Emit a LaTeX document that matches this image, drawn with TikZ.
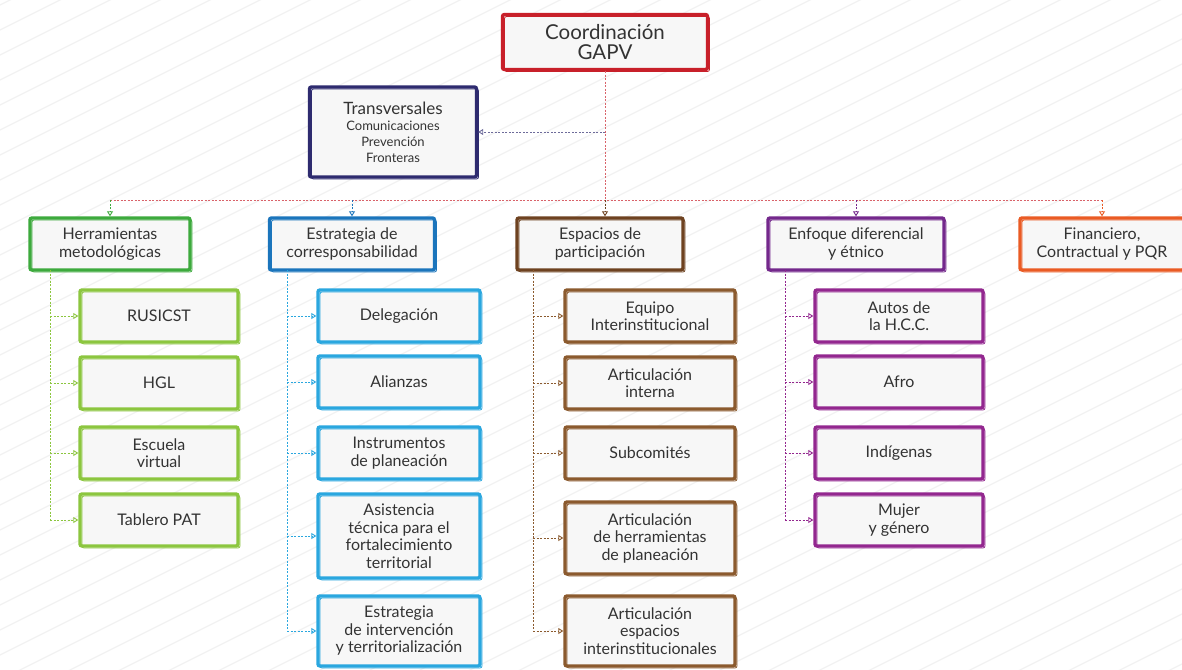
\documentclass[tikz,border=0pt]{standalone}
\usepackage{fontspec}
\setmainfont{Lato}
\usetikzlibrary{arrows.meta}
\definecolor{coordred}{HTML}{C8202A}
\definecolor{navy}{HTML}{2E2B6F}
\definecolor{herrgreen}{HTML}{3DAA3D}
\definecolor{leafgreen}{HTML}{8CC63F}
\definecolor{estrblue}{HTML}{1B75BC}
\definecolor{leafblue}{HTML}{2AA7DF}
\definecolor{espabrown}{HTML}{6E4220}
\definecolor{leafbrown}{HTML}{8B5A2E}
\definecolor{enfopurple}{HTML}{74288C}
\definecolor{leafpurple}{HTML}{93278F}
\definecolor{finaorange}{HTML}{EA5B24}
\newcommand\trsub{\fontsize{13}{14}\selectfont}
\begin{document}
\begin{tikzpicture}[x=1pt,y=-1pt,
  box/.style={draw=#1, line width=3.4pt, rounded corners=2pt, fill=gray!6,
    align=center, text=black!80, inner sep=2pt, minimum height=52pt,
    font=\fontsize{16}{17.5}\selectfont,
    postaction={draw=#1, line width=0.8pt, transform canvas={shift={(2pt,-2pt)}}}},
  link/.style={draw=#1, dash pattern=on 2pt off 1.5pt, line width=0.9pt,
    -{Triangle[open,length=5pt,width=6pt]}},
  bus/.style={draw=#1, dash pattern=on 2pt off 1.5pt, line width=0.9pt}]
  \useasboundingbox (0,0) rectangle (1182,669);
  \fill[white] (0,0) rectangle (1182,669);
  \begin{scope}
    \clip (0,0) rectangle (1182,669);
    \foreach \i in {-30,...,25}
      \draw[black!5, line width=1.2pt] (\i*50,680) -- ++(1400,-700);
  \end{scope}

  \node[box=coordred, minimum width=205pt, minimum height=55pt,
    font=\fontsize{20.5}{20}\selectfont] (coord) at (605,42) {Coordinación\\GAPV};
  \node[box=navy, minimum width=167pt, minimum height=90pt,
    font=\fontsize{17}{16}\selectfont] (trans) at (393,132)
    {Transversales\\{\trsub Comunicaciones}\\{\trsub Prevención}\\{\trsub Fronteras}};

  \node[box=herrgreen, minimum width=160pt] (herr) at (110,244) {Herramientas\\metodológicas};
  \node[box=estrblue, minimum width=165pt] (estr) at (352,244) {Estrategia de\\corresponsabilidad};
  \node[box=espabrown, minimum width=166pt] (espa) at (600,244) {Espacios de\\participación};
  \node[box=enfopurple, minimum width=176pt] (enfo) at (856,244) {Enfoque diferencial\\y étnico};
  \node[box=finaorange, minimum width=164pt] (fina) at (1102,244) {Financiero,\\Contractual y PQR};

  \node[box=leafgreen, minimum width=158pt] (rusi) at (159,316) {RUSICST};
  \node[box=leafgreen, minimum width=158pt] (hgl) at (159,383) {HGL};
  \node[box=leafgreen, minimum width=158pt] (escu) at (159,453) {Escuela\\virtual};
  \node[box=leafgreen, minimum width=158pt] (tabl) at (159,520) {Tablero PAT};

  \node[box=leafblue, minimum width=162pt] (dele) at (399,316) {Delegación};
  \node[box=leafblue, minimum width=162pt] (alia) at (399,382) {Alianzas};
  \node[box=leafblue, minimum width=162pt] (inst) at (399,453) {Instrumentos\\de planeación};
  \node[box=leafblue, minimum width=162pt, minimum height=84pt] (asis) at (399,536)
    {Asistencia\\técnica para el\\fortalecimiento\\territorial};
  \node[box=leafblue, minimum width=162pt, minimum height=70pt] (inte) at (399,631)
    {Estrategia\\de intervención\\y territorialización};

  \node[box=leafbrown, minimum width=170pt] (equi) at (650,316) {Equipo\\Interinstitucional};
  \node[box=leafbrown, minimum width=170pt] (arti) at (650,383) {Articulación\\interna};
  \node[box=leafbrown, minimum width=170pt] (subc) at (650,453) {Subcomités};
  \node[box=leafbrown, minimum width=170pt, minimum height=72pt] (arhe) at (650,538)
    {Articulación\\de herramientas\\de planeación};
  \node[box=leafbrown, minimum width=170pt, minimum height=70pt] (ares) at (650,631)
    {Articulación\\espacios\\interinstitucionales};

  \node[box=leafpurple, minimum width=168pt] (auto) at (899,316) {Autos de\\la H.C.C.};
  \node[box=leafpurple, minimum width=168pt] (afro) at (899,382) {Afro};
  \node[box=leafpurple, minimum width=168pt] (indi) at (899,453) {Indígenas};
  \node[box=leafpurple, minimum width=168pt] (muje) at (899,520) {Mujer\\y género};

  \coordinate (hub) at (605,200);
  \coordinate (hubl) at (herr.north |- hub);
  \coordinate (hubr) at (fina.north |- hub);
  \draw[bus=coordred!70] (coord.south) -- (hub);
  \draw[bus=coordred!70] (hubl) -- (hubr);
  \draw[link=navy!70] (coord.south |- trans.east) -- (trans.east);
  \draw[link=herrgreen] (hubl) -- (herr.north);
  \draw[link=estrblue] (estr.north |- hub) -- (estr.north);
  \draw[link=espabrown] (hub) -- (espa.north -| hub);
  \draw[link=enfopurple] (enfo.north |- hub) -- (enfo.north);
  \draw[link=finaorange] (hubr) -- (fina.north);

  \coordinate (herrbus) at (50,270);
  \coordinate (estrbus) at (287,270);
  \coordinate (espabus) at (533,270);
  \coordinate (enfobus) at (785,270);
  \draw[bus=leafgreen] (herrbus) -- (herrbus |- tabl.west);
  \draw[bus=leafblue] (estrbus) -- (estrbus |- inte.west);
  \draw[bus=leafbrown] (espabus) -- (espabus |- ares.west);
  \draw[bus=leafpurple] (enfobus) -- (enfobus |- muje.west);
  \foreach \n in {rusi,hgl,escu,tabl}
    \draw[link=leafgreen] (herrbus |- \n.west) -- (\n.west);
  \foreach \n in {dele,alia,inst,asis,inte}
    \draw[link=leafblue] (estrbus |- \n.west) -- (\n.west);
  \foreach \n in {equi,arti,subc,arhe,ares}
    \draw[link=leafbrown] (espabus |- \n.west) -- (\n.west);
  \foreach \n in {auto,afro,indi,muje}
    \draw[link=leafpurple] (enfobus |- \n.west) -- (\n.west);
\end{tikzpicture}
\end{document}
